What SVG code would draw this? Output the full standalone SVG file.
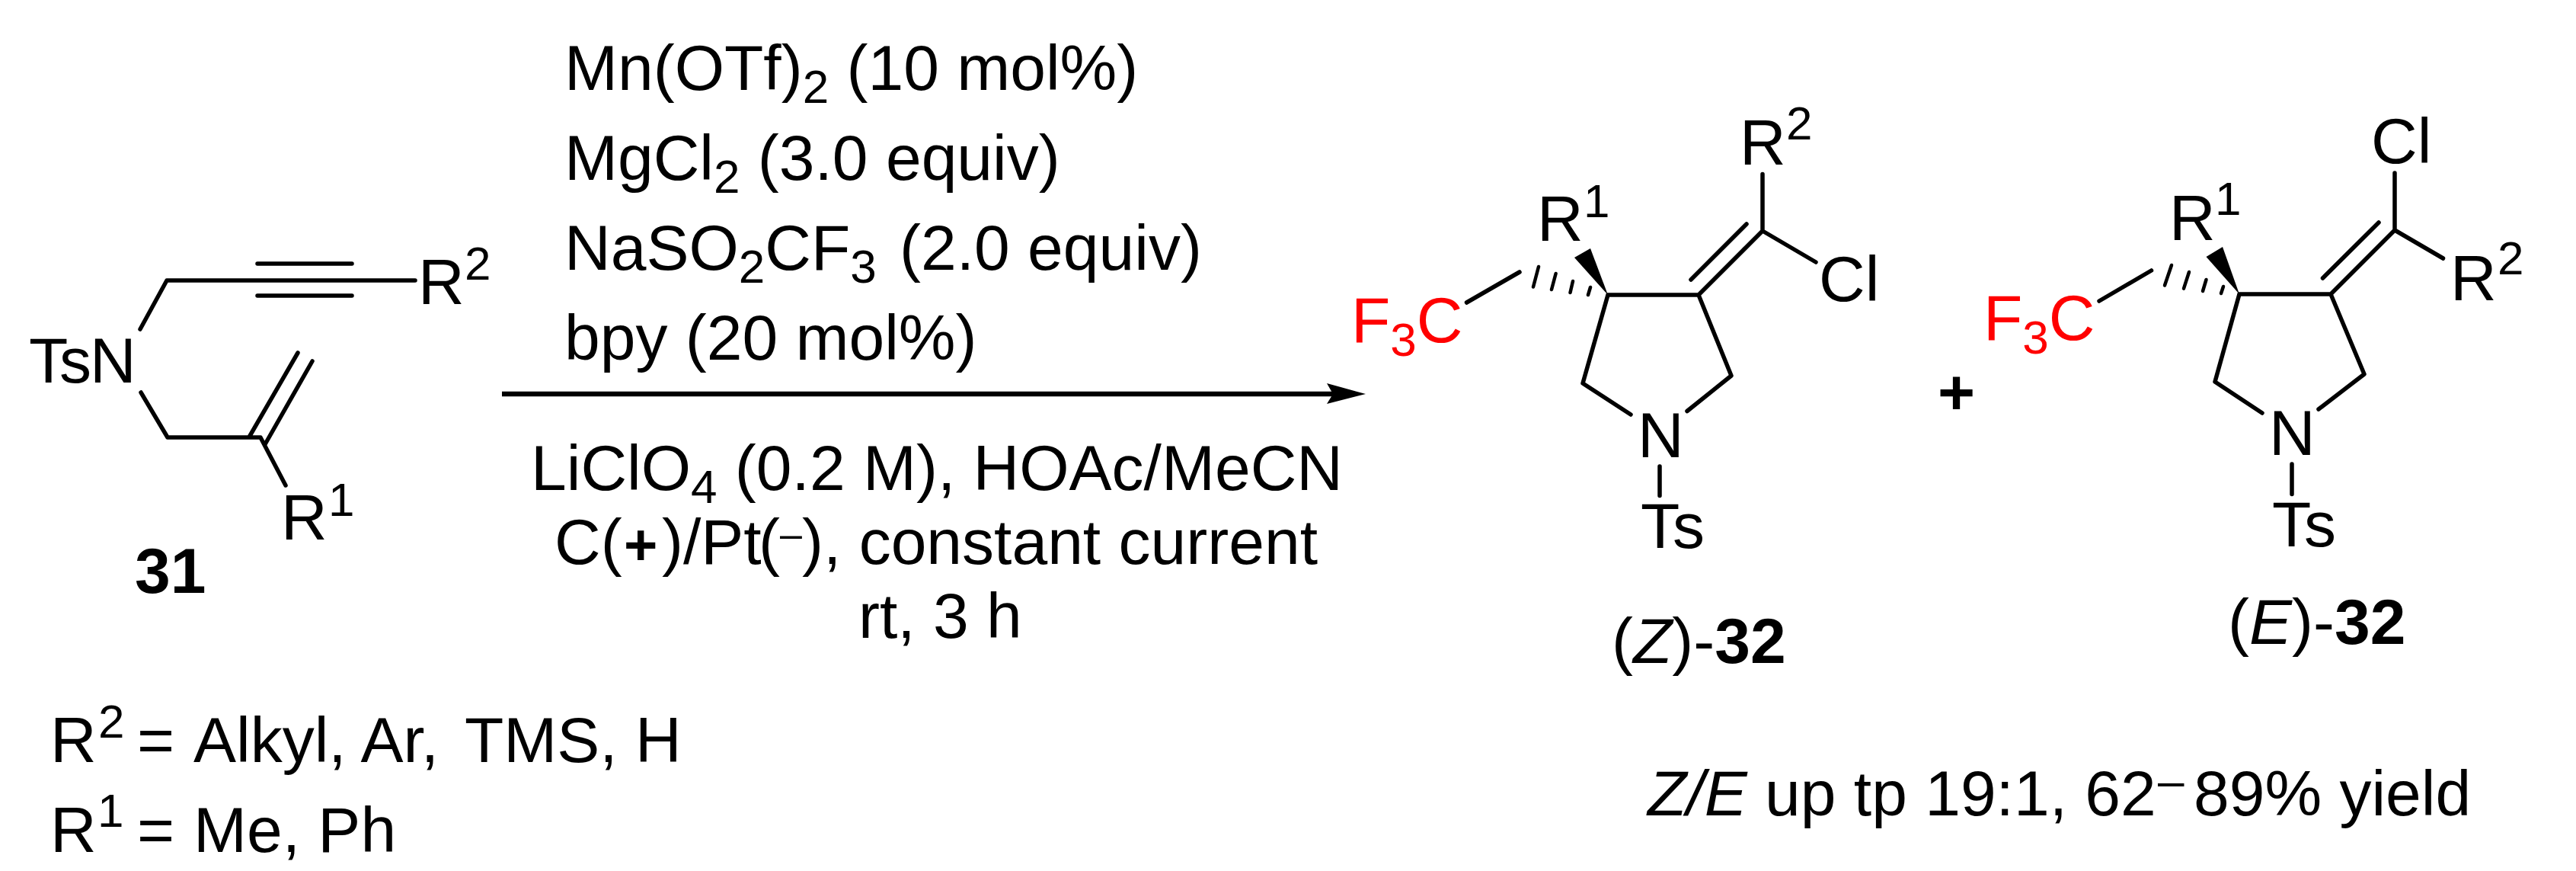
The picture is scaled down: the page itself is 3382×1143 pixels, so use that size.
<svg xmlns="http://www.w3.org/2000/svg" width="3382" height="1143" viewBox="0 0 3382 1143">
<style>
text{font-family:"Liberation Sans",Arial,sans-serif;font-size:84px;fill:#000}
.s{font-size:62px}
.d{font-size:52px}
.p{font-size:76px;font-weight:bold}
.b{font-weight:bold}
.i{font-style:italic}
.r,.r text{fill:#f00}
.bond{stroke:#000;stroke-width:5.500;fill:none;stroke-linecap:round;stroke-linejoin:round}
.hash{stroke:#000;stroke-width:4.500;fill:none;stroke-linecap:round}
</style>
<rect width="3382" height="1143" fill="#fff"/>
<g id="reactant-31">
<path class="bond" d="M184 432L219 368H545M338 346H462M338 388H462M185 515L220 574H342L375 637M328 572L391 463M348 583L410 474"/>
<text x="38" y="502" style="letter-spacing:-2px">TsN</text>
<text x="549" y="399">R</text><text class="s" x="610" y="367">2</text>
<text x="369" y="708">R</text><text class="s" x="431" y="677">1</text>
<text class="b" x="177" y="778">31</text>
</g>
<g id="conditions">
<text x="741" y="118">Mn(OTf)<tspan class="s" dy="17">2</tspan><tspan dy="-17"> (10 mol%)</tspan></text>
<text x="741" y="236">MgCl<tspan class="s" dy="17">2</tspan><tspan dy="-17"> (3.0 equiv)</tspan></text>
<text x="741" y="354">NaSO<tspan class="s" dy="17">2</tspan><tspan dy="-17">CF</tspan><tspan class="s" dy="17">3</tspan><tspan x="1181" y="354">(2.0 equiv)</tspan></text>
<text x="741" y="472">bpy (20 mol%)</text>
<text x="697" y="643">LiClO<tspan class="s" dy="17">4</tspan><tspan dy="-17"> (0.2 M), HOAc/MeCN</tspan></text>
<text x="728" y="740">C(<tspan class="p" x="819" y="741">+</tspan><tspan x="869" y="740">)/Pt</tspan><tspan x="996" y="740">(</tspan><tspan class="d" x="1024" y="718">–</tspan><tspan x="1053" y="740">), constant current</tspan></text>
<text x="1127" y="837">rt, 3 h</text>
</g>
<g id="connectors">
<path d="M659 517H1750" stroke="#000" stroke-width="6.500" fill="none"/>
<polygon points="1793,517 1742,503 1750,517 1742,530" fill="#000"/>
</g>
<g id="product-Z-32">
<path class="bond" d="M1995 357L1925.500 397M2111 387H2230L2273 493L2215 539.500M2111 387L2078 503L2141 544M2230 387L2314 303L2314 228.500M2314 303L2384 344M2220 367L2293 294M2179 612V650.600"/>
<polygon points="2111,387 2067,338 2088,326" fill="#000"/>
<path class="hash" d="M2088 377L2085 387M2065 369L2061.500 384M2042.600 359L2037 380M2020 350L2013 376.500"/>
<text class="r" x="1774" y="449">F<tspan class="s" dy="18">3</tspan><tspan dy="-18">C</tspan></text>
<text x="2018" y="316">R</text><text class="s" x="2079" y="284.500">1</text>
<text x="2284" y="216">R</text><text class="s" x="2345" y="183">2</text>
<text x="2388" y="395">Cl</text>
<text x="2150" y="600">N</text>
<text x="2154" y="719">Ts</text>
<text x="2116" y="870">(<tspan class="i">Z</tspan>)-<tspan class="b">32</tspan></text>
</g>
<g id="plus"><text class="b" x="2544" y="544">+</text></g>
<g id="product-E-32">
<path class="bond" d="M2824.500 355L2756 395M2940 386H3060L3104 491L3044 537M2940 386L2908 501L2970 542M3060 386L3144 302L3144 227M3144 302L3207.500 339M3049.500 365L3123 292M3009 609V648.500"/>
<polygon points="2940,386 2896.500,337 2918,324" fill="#000"/>
<path class="hash" d="M2919 376L2916 385M2896.500 367L2892 382M2874 357L2867 378.600M2851 348L2842 374.500"/>
<text class="r" x="2604" y="446">F<tspan class="s" dy="18">3</tspan><tspan dy="-18">C</tspan></text>
<text x="2848" y="315">R</text><text class="s" x="2908" y="282">1</text>
<text x="3113" y="214">Cl</text>
<text x="3217" y="393.500">R</text><text class="s" x="3279" y="360">2</text>
<text x="2979" y="597">N</text>
<text x="2983" y="717">Ts</text>
<text x="2925" y="845">(<tspan class="i">E</tspan>)-<tspan class="b">32</tspan></text>
</g>
<g id="r-groups">
<text x="66" y="1000">R<tspan class="s" x="129" y="968">2</tspan><tspan x="180" y="1000">=</tspan><tspan x="254" y="1000">Alkyl, Ar,</tspan><tspan x="610" y="1000">TMS, H</tspan></text>
<text x="66" y="1118">R<tspan class="s" x="128" y="1085">1</tspan><tspan x="180" y="1118">=</tspan><tspan x="254" y="1118">Me, Ph</tspan></text>
</g>
<g id="selectivity">
<text x="2163" y="1070"><tspan class="i">Z/E</tspan> up tp 19:1, 62<tspan class="s" x="2833" y="1046">–</tspan><tspan x="2880" y="1070">89% yield</tspan></text>
</g>
</svg>
